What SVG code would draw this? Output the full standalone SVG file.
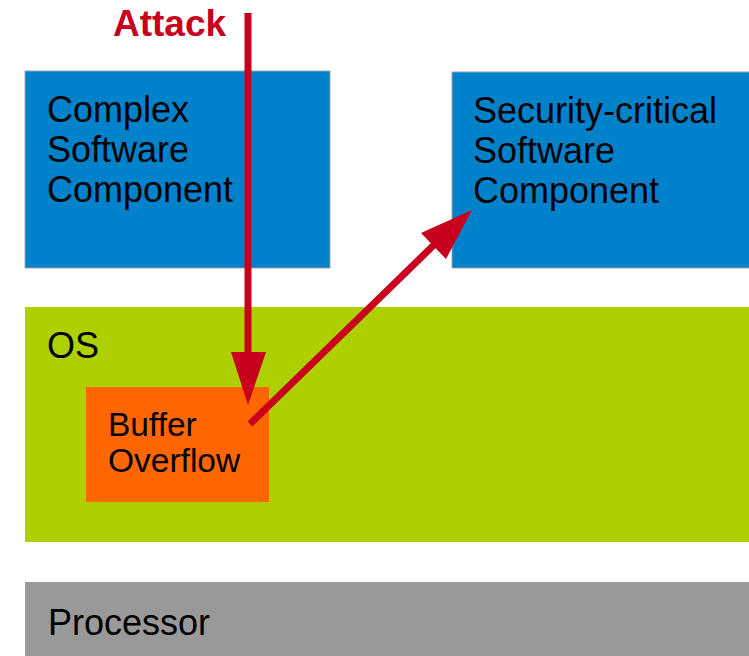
<svg xmlns="http://www.w3.org/2000/svg" width="749" height="656" viewBox="0 0 749 656">
<style>
.lbl{font-family:"Liberation Sans",Arial,sans-serif;font-size:36px;fill:#000}
.blue{fill:#0082CA;stroke:#9aa6b0;stroke-width:1}
.arr{stroke:#C8001E;stroke-width:7;fill:none}
.head{fill:#C8001E}
</style>
<rect width="749" height="656" fill="#fff"/>
<g id="complex">
<rect class="blue" x="25" y="71" width="305" height="197"/>
<text class="lbl" x="47" y="122">Complex</text>
<text class="lbl" x="47" y="162">Software</text>
<text class="lbl" x="47" y="202">Component</text>
</g>
<g id="security">
<rect class="blue" x="452" y="72" width="300" height="196"/>
<text class="lbl" x="473" y="123">Security-critical</text>
<text class="lbl" x="473" y="163">Software</text>
<text class="lbl" x="473" y="203">Component</text>
</g>
<g id="os">
<rect x="25" y="307" width="730" height="235" fill="#AECF00"/>
<text class="lbl" x="47" y="358">OS</text>
</g>
<g id="buffer">
<rect x="86" y="387" width="183" height="115" fill="#FF6600"/>
<text class="lbl" x="108" y="436" style="font-size:33.5px">Buffer</text>
<text class="lbl" x="108" y="472" style="font-size:33.5px">Overflow</text>
</g>
<g id="processor">
<rect x="25" y="582" width="730" height="80" fill="#999999"/>
<text class="lbl" x="48" y="635">Processor</text>
</g>
<g id="attack">
<text x="113" y="36" style="font-family:'Liberation Sans',Arial,sans-serif;font-weight:bold;font-size:37px;fill:#C8001E">Attack</text>
</g>
<g id="connectors">
<line class="arr" x1="248" y1="13" x2="248" y2="356"/>
<polygon class="head" points="231,352 266,352 248,405"/>
<line class="arr" x1="250" y1="424" x2="438" y2="241"/>
<polygon class="head" points="472,210 421,233 446,259"/>
</g>
</svg>
